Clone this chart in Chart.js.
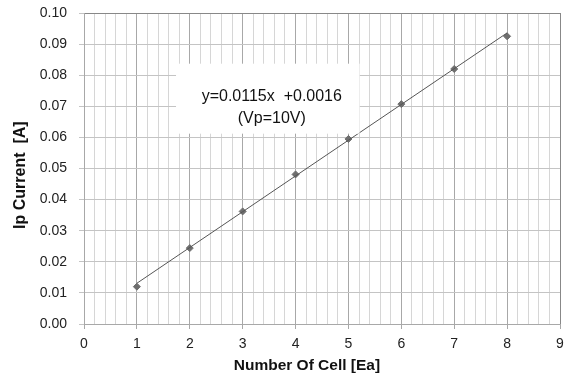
<!DOCTYPE html>
<html lang="en">
<head>
    <meta charset="UTF-8">
    <title>Ip Current vs Number Of Cell</title>
    <script src="https://cdnjs.cloudflare.com/ajax/libs/Chart.js/4.4.3/chart.umd.min.js"></script>
    <style>
        body { margin: 0; background: #fff; }
        .wrap { width: 565px; height: 376px; position: relative; }
    </style>
</head>
<body>
    <div class="wrap"><canvas id="ipChart"></canvas></div>

    <script>
        // measured points
        const cells = [1, 2, 3, 4, 5, 6, 7, 8];
        const ipCurrent = [0.0120, 0.0244, 0.0362, 0.0481, 0.0595, 0.0707, 0.0820, 0.0925];
        // trend line ends
        const trendX = [1, 8];
        const trendY = [0.0131, 0.0936];
        const noteLines = ['y=0.0115x  +0.0016', '(Vp=10V)'];

        const isWhole = v => Math.abs(v - Math.round(v)) < 1e-6;
        // titles sit a little off-centre in the original; pad with nbsp
        const pad = n => '\u00a0'.repeat(n);

        // white note box with the fit equation
        const notePlugin = {
            id: 'note',
            afterDatasetsDraw(chart) {
                const ctx = chart.ctx;
                const xs = chart.scales.x, ys = chart.scales.y;
                const l = xs.getPixelForValue(1.74), r = xs.getPixelForValue(5.21);
                const t = ys.getPixelForValue(0.0837), b = ys.getPixelForValue(0.0612);
                ctx.save();
                ctx.fillStyle = '#fff';
                ctx.fillRect(l, t, r - l, b - t);
                ctx.fillStyle = '#111';
                ctx.font = '16px "Liberation Sans", Arial, sans-serif';
                ctx.textAlign = 'center';
                ctx.textBaseline = 'middle';
                const cx = (l + r) / 2 + 4;
                ctx.fillText(noteLines[0], cx, t + 33);
                ctx.fillText(noteLines[1], cx, t + 55);
                ctx.restore();
            }
        };

        new Chart(document.getElementById('ipChart'), {
            type: 'scatter',
            data: {
                datasets: [{
                    data: trendX.map((x, i) => ({ x: x, y: trendY[i] })),
                    showLine: true,
                    borderColor: '#555',
                    borderWidth: 1,
                    pointRadius: 0
                }, {
                    data: cells.map((x, i) => ({ x: x, y: ipCurrent[i] })),
                    pointStyle: 'rectRot',
                    pointRadius: 3.5,
                    backgroundColor: '#6e6e6e',
                    borderColor: '#6e6e6e',
                    borderWidth: 1
                }]
            },
            options: {
                responsive: true,
                maintainAspectRatio: false,
                animation: false,
                layout: { padding: { left: 0, top: 13, right: 4, bottom: 0 } },
                plugins: {
                    legend: { display: false },
                    tooltip: { enabled: false }
                },
                scales: {
                    x: {
                        type: 'linear',
                        min: 0,
                        max: 9,
                        afterFit: s => {
                            s.height = 52;
                            s.paddingLeft = 0;
                            s.paddingRight = 0;
                        },
                        ticks: {
                            stepSize: 0.2,
                            autoSkip: false,
                            maxRotation: 0,
                            color: '#222',
                            padding: 7,
                            font: { family: '"Liberation Sans", Arial', size: 14 },
                            callback: v => isWhole(v) ? String(Math.round(v)) : ''
                        },
                        grid: {
                            color: c => c.tick.value >= 8.999 ? '#888' : (isWhole(c.tick.value) ? '#a8a8a8' : '#d6d6d6'),
                            tickColor: c => isWhole(c.tick.value) ? '#a8a8a8' : 'rgba(0,0,0,0)',
                            tickLength: 5
                        },
                        border: { color: '#a8a8a8' },
                        title: {
                            display: true,
                            text: 'Number Of Cell [Ea]' + pad(7),
                            color: '#111',
                            padding: { top: 0, bottom: 1 },
                            font: { family: '"Liberation Sans", Arial', size: 15.5, weight: 'bold' }
                        }
                    },
                    y: {
                        min: 0,
                        max: 0.10,
                        afterFit: s => {
                            s.width = 84;
                            s.paddingTop = 0;
                            s.paddingBottom = 0;
                        },
                        ticks: {
                            stepSize: 0.01,
                            color: '#222',
                            padding: 12,
                            font: { family: '"Liberation Sans", Arial', size: 14 },
                            callback: v => v.toFixed(2)
                        },
                        grid: {
                            color: c => c.tick.value >= 0.0999 ? '#888' : '#c4c4c4',
                            tickColor: '#c4c4c4',
                            tickLength: 5
                        },
                        border: { color: '#a8a8a8' },
                        title: {
                            display: true,
                            text: 'Ip Current  [A]' + pad(3),
                            color: '#111',
                            padding: { top: 11, bottom: 0 },
                            font: { family: '"Liberation Sans", Arial', size: 16, weight: 'bold' }
                        }
                    }
                }
            },
            plugins: [notePlugin]
        });
    </script>
</body>
</html>
